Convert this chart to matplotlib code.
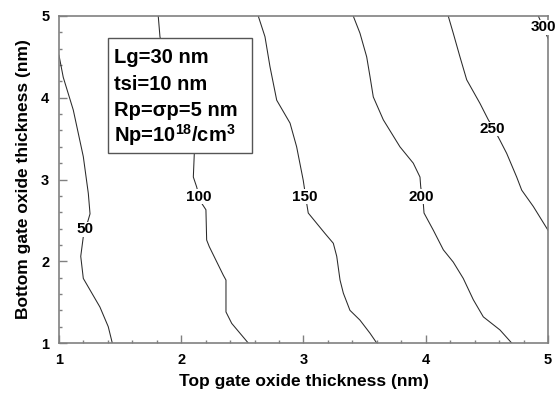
import matplotlib
matplotlib.use('Agg')
import matplotlib.pyplot as plt
from matplotlib.patches import Rectangle
from matplotlib.ticker import MultipleLocator

plt.rcParams['font.family'] = ['Liberation Sans', 'DejaVu Sans']
plt.rcParams['mathtext.fontset'] = 'custom'
plt.rcParams['mathtext.rm'] = 'Liberation Sans'
plt.rcParams['mathtext.bf'] = 'Liberation Sans:bold'

# contour levels (x = top oxide, y = bottom oxide)
levels = [50, 100, 150, 200, 250, 300]

c50_x = [1.0, 1.035, 1.117, 1.199, 1.24, 1.254, 1.199, 1.178, 1.199, 1.335, 1.403, 1.436]
c50_y = [4.52, 4.25, 3.85, 3.28, 2.83, 2.58, 2.30, 2.06, 1.79, 1.44, 1.20, 1.0]

c100_x = [1.812, 1.826, 1.867, 1.99, 2.072, 2.107, 2.099, 2.126, 2.145, 2.167, 2.202,
          2.208, 2.229, 2.344, 2.366, 2.366, 2.413, 2.548]
c100_y = [5.0, 4.747, 4.46, 3.97, 3.61, 3.32, 3.03, 2.91, 2.80, 2.71, 2.63,
          2.26, 2.18, 1.83, 1.77, 1.38, 1.24, 1.0]

c150_x = [2.630, 2.685, 2.726, 2.781, 2.890, 2.944, 2.998, 3.012, 3.026, 3.039, 3.176,
          3.244, 3.272, 3.299, 3.326, 3.380, 3.462, 3.544, 3.599]
c150_y = [5.0, 4.747, 4.38, 3.97, 3.69, 3.40, 2.99, 2.85, 2.71, 2.59, 2.34,
          2.22, 2.06, 1.77, 1.61, 1.40, 1.28, 1.12, 1.0]

c200_x = [3.407, 3.462, 3.517, 3.544, 3.571, 3.653, 3.789, 3.898, 3.953, 3.959, 3.970,
          3.980, 3.986, 4.062, 4.144, 4.225, 4.307, 4.389, 4.471, 4.607, 4.703]
c200_y = [5.0, 4.79, 4.50, 4.26, 4.01, 3.73, 3.40, 3.20, 3.03, 2.91, 2.80,
          2.71, 2.59, 2.38, 2.14, 1.99, 1.79, 1.53, 1.32, 1.16, 1.0]

c250_x = [4.184, 4.225, 4.280, 4.335, 4.444, 4.512, 4.56, 4.607, 4.662, 4.744, 4.785, 4.880, 5.0]
c250_y = [5.0, 4.79, 4.50, 4.22, 3.93, 3.73, 3.61, 3.48, 3.32, 3.03, 2.87, 2.67, 2.38]

c300_x = [4.921, 5.0]
c300_y = [5.0, 4.727]

contours_x = [c50_x, c100_x, c150_x, c200_x, c250_x, c300_x]
contours_y = [c50_y, c100_y, c150_y, c200_y, c250_y, c300_y]

# where each level number sits
label_x = [1.213, 2.145, 3.012, 3.963, 4.546, 4.959]
label_y = [2.39, 2.79, 2.79, 2.79, 3.62, 4.86]

info_lines = ['Lg=30 nm', 'tsi=10 nm', 'Rp=\u03c3p=5 nm',
              r'Np=10$^{\mathbf{18}}$/cm$^{\mathbf{3}}$']

fig = plt.figure(figsize=(5.59, 3.96), dpi=100)
ax = fig.add_axes([0.1055, 0.1338, 0.8748, 0.8258])

for xs, ys in zip(contours_x, contours_y):
    ax.plot(xs, ys, color='#2a2a2a', lw=0.75, zorder=2)

for lev, lx, ly in zip(levels, label_x, label_y):
    ax.text(lx, ly, str(lev), ha='center', va='center', fontsize=11,
            fontweight='bold', zorder=3, clip_on=False,
            bbox=dict(facecolor='white', edgecolor='none', pad=0.2))

# info box
box = Rectangle((1.403, 3.32), 1.173, 1.407, facecolor='white',
                edgecolor='#555555', lw=1.0, zorder=4)
ax.add_patch(box)
for i, line in enumerate(info_lines):
    ax.text(1.447, 4.42 - i * 0.32, line, ha='left', va='baseline', fontsize=14.5,
            fontweight='bold', zorder=5)

ax.set_xlim(1, 5)
ax.set_ylim(1, 5)
ax.xaxis.set_major_locator(MultipleLocator(1))
ax.yaxis.set_major_locator(MultipleLocator(1))
ax.xaxis.set_minor_locator(MultipleLocator(0.2))
ax.yaxis.set_minor_locator(MultipleLocator(0.2))
ax.tick_params(which='both', direction='in', top=False, right=False,
               color='#808080', width=1.0, labelsize=10.5, pad=7)
ax.tick_params(which='major', length=5.5)
ax.tick_params(which='minor', length=2.5)
for lab in ax.get_xticklabels() + ax.get_yticklabels():
    lab.set_fontweight('bold')
for sp in ax.spines.values():
    sp.set_color('#808080')
    sp.set_linewidth(1.2)

ax.set_xlabel('Top gate oxide thickness (nm)', fontsize=12.5, fontweight='bold', labelpad=5)
ax.set_ylabel('Bottom gate oxide thickness (nm)', fontsize=12.5, fontweight='bold', labelpad=7)

fig.savefig('out.png', dpi=100)
